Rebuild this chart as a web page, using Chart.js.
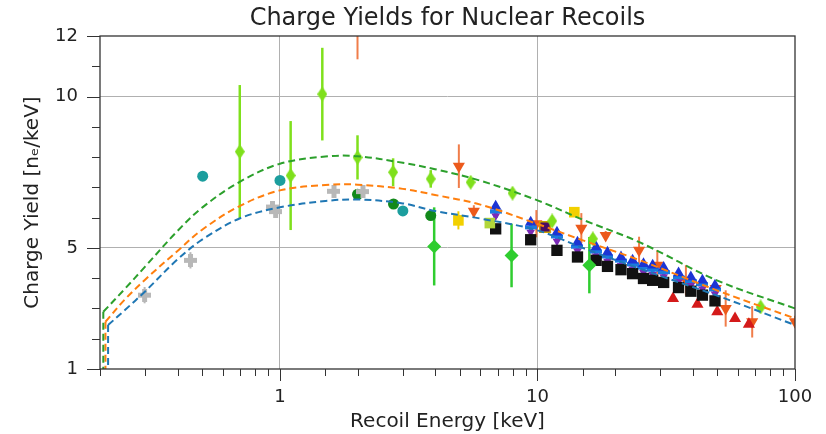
<!DOCTYPE html>
<html>
<head>
<meta charset="utf-8">
<script src="https://cdn.jsdelivr.net/npm/chart.js@4.4.1/dist/chart.umd.min.js"></script>
<style>
  html, body { margin: 0; padding: 0; background: #fff; }
</style>
</head>
<body>
<canvas id="chart" width="826" height="434"></canvas>
<script>
// ================= MODEL CURVES =================
const greenCurveE = [0.206, 0.25, 0.3, 0.4, 0.5, 0.7, 1, 1.5, 2, 3, 4, 6, 10, 15, 25, 50, 100];
const greenCurveY = [2.89, 3.65, 4.39, 5.56, 6.34, 7.19, 7.78, 8.02, 8.03, 7.81, 7.6, 7.22, 6.57, 5.93, 5.18, 3.92, 3.0];
const orangeCurveE = [0.21, 0.25, 0.3, 0.4, 0.5, 0.7, 1, 1.5, 2, 3, 4, 6, 10, 15, 25, 50, 100];
const orangeCurveY = [2.56, 3.30, 3.96, 4.90, 5.61, 6.39, 6.90, 7.08, 7.09, 6.95, 6.75, 6.43, 5.79, 5.25, 4.59, 3.59, 2.67];
const blueCurveE = [0.215, 0.25, 0.3, 0.4, 0.5, 0.7, 1, 1.5, 2, 3, 4, 6, 10, 15, 25, 50, 100];
const blueCurveY = [2.45, 2.95, 3.57, 4.62, 5.28, 5.98, 6.34, 6.55, 6.60, 6.47, 6.22, 5.97, 5.58, 5.0, 4.31, 3.42, 2.45];
const curveFloor = 0.5;

// ================= MEASUREMENTS =================
const grayE = [0.298, 0.449, 0.935, 0.962, 1.62, 2.10];
const grayY = [3.44, 4.59, 6.35, 6.20, 6.87, 6.86];
const grayErr = [0.27, 0.27, 0.1, 0.1, 0.08, 0.08];

const tealE = [0.501, 1.0, 3.0];
const tealY = [7.37, 7.23, 6.22];

const darkGreenE = [2.0, 2.76, 3.85];
const darkGreenY = [6.77, 6.45, 6.07];

const limeE = [0.698, 1.10, 1.46, 2.0, 2.75, 3.85, 5.50, 8.0, 11.4, 16.4, 73.5];
const limeY = [8.18, 7.39, 10.08, 7.99, 7.50, 7.28, 7.17, 6.81, 5.89, 5.30, 3.05];
const limeErr = [2.2, 1.8, 1.53, 0.73, 0.46, 0.29, 0.1, 0, 0, 0, 0.1];

const brightE = [3.97, 7.93, 15.9];
const brightY = [5.05, 4.75, 4.43];
const brightErr = [1.29, 1.05, 0.93];

const orangeE = [2.0, 4.95, 5.66, 9.9, 14.8, 18.4, 24.8, 29.2, 37.7, 49.2, 53.8, 68.2, 100];
const orangeY = [13.0, 7.70, 6.21, 5.80, 5.65, 5.41, 4.92, 4.43, 3.93, 3.66, 3.0, 2.56, 2.56];
const orangeErr = [1.77, 0.72, 0.2, 0.45, 0.5, 0.15, 0.45, 0.5, 0.5, 0.2, 0.6, 0.52, 0.2];

const yellowE = [4.93, 13.9];
const yellowY = [5.91, 6.18];
const yellowErr = [0.3, 0.1];

const nrE = [6.88, 9.41, 11.9, 14.3, 16.9, 18.7, 21.1, 23.4, 25.8, 28.0, 30.9, 35.3, 39.4, 43.7, 48.9];
const blackY = [5.63, 5.27, 4.92, 4.70, 4.59, 4.39, 4.28, 4.15, 3.99, 3.93, 3.86, 3.69, 3.57, 3.44, 3.25];
const blueTriY = [6.38, 5.85, 5.52, 5.19, 5.03, 4.86, 4.70, 4.59, 4.48, 4.43, 4.35, 4.17, 4.04, 3.93, 3.77];
const lightBlueY = [6.20, 5.68, 5.38, 5.04, 4.88, 4.72, 4.58, 4.46, 4.35, 4.28, 4.20, 4.02, 3.90, 3.80, 3.63];
const purpleY = [6.05, 5.52, 5.22, 4.90, 4.73, 4.56, 4.42, 4.30, 4.19, 4.12, 4.05, 3.88, 3.76, 3.64, 3.48];

const redE = [33.6, 41.8, 49.9, 58.5, 66.2];
const redY = [3.33, 3.14, 2.89, 2.67, 2.48];

const yellowGreenE = [6.53];
const yellowGreenY = [5.82];
const darkPurpleE = [10.7];
const darkPurpleY = [5.69];

// ================= AXES =================
const xMin = 0.2, xMax = 100;
const yMin = 1, yMax = 12;
const yLabelTicks = [1, 5, 10, 12];
const yGridTicks = [5, 10];
const xGridTicks = [1, 10];

// ================= HELPERS =================
const pts = (xs, ys) => xs.map((v, i) => ({ x: v, y: ys[i] }));

function thinDiamond(color, w, h) {
    const c = document.createElement("canvas");
    c.width = w; c.height = h;
    const g = c.getContext("2d");
    g.fillStyle = color;
    g.beginPath();
    g.moveTo(w / 2, 0); g.lineTo(w, h / 2); g.lineTo(w / 2, h); g.lineTo(0, h / 2);
    g.closePath(); g.fill();
    return c;
}

function filledPlus(color, s, t) {
    const c = document.createElement("canvas");
    c.width = s; c.height = s;
    const g = c.getContext("2d");
    g.fillStyle = color;
    g.fillRect((s - t) / 2, 0, t, s);
    g.fillRect(0, (s - t) / 2, s, t);
    return c;
}

function curve(xs, ys, color) {
    return {
        type: "line", showLine: true, data: pts(xs, ys),
        borderColor: color, borderWidth: 2, borderDash: [7, 4],
        pointRadius: 0, tension: 0.35, fill: false, order: 0
    };
}

// vertical drop at the threshold of each model curve
function drop(xs, ys, color) {
    return {
        type: "line", showLine: true,
        data: [{ x: xs[0], y: ys[0] }, { x: xs[0], y: curveFloor }],
        borderColor: color, borderWidth: 2, borderDash: [7, 4],
        pointRadius: 0, tension: 0, fill: false, order: 0
    };
}

function marks(xs, ys, color, style, radius, extra) {
    return Object.assign({
        data: pts(xs, ys), backgroundColor: color, borderColor: color,
        borderWidth: 0, pointStyle: style, pointRadius: radius, order: 1
    }, extra || {});
}

// ================= PLUGINS =================
const isMajorLog = v => Math.abs(Math.log10(v) - Math.round(Math.log10(v))) < 1e-6;

const errorBars = {
    id: "errorBars",
    beforeDatasetsDraw(chart) {
        const { ctx, chartArea, scales } = chart;
        ctx.save();
        ctx.beginPath();
        ctx.rect(chartArea.left, chartArea.top, chartArea.width, chartArea.height);
        ctx.clip();
        chart.data.datasets.forEach(ds => {
            if (!ds.errors) return;
            ctx.strokeStyle = ds.errorColor || ds.backgroundColor;
            ctx.lineWidth = ds.errorWidth || 2;
            ds.data.forEach((p, i) => {
                const e = ds.errors[i];
                if (!e) return;
                const px = scales.x.getPixelForValue(p.x);
                ctx.beginPath();
                ctx.moveTo(px, scales.y.getPixelForValue(p.y - e));
                ctx.lineTo(px, scales.y.getPixelForValue(p.y + e));
                ctx.stroke();
            });
        });
        ctx.restore();
    }
};

const frameAndTicks = {
    id: "frameAndTicks",
    afterDraw(chart) {
        const { ctx, chartArea: a, scales } = chart;
        ctx.save();
        ctx.strokeStyle = "#333";
        ctx.lineWidth = 1;
        scales.y.ticks.forEach(t => {
            const py = Math.round(scales.y.getPixelForValue(t.value)) + 0.5;
            const len = yLabelTicks.includes(t.value) ? 13 : 8;
            ctx.beginPath();
            ctx.moveTo(a.left, py); ctx.lineTo(a.left - len, py);
            ctx.stroke();
        });
        scales.x.ticks.forEach(t => {
            const px = Math.round(scales.x.getPixelForValue(t.value)) + 0.5;
            const len = isMajorLog(t.value) ? 12 : 7;
            ctx.beginPath();
            ctx.moveTo(px, a.bottom); ctx.lineTo(px, a.bottom + len);
            ctx.stroke();
        });
        ctx.lineWidth = 1.3;
        ctx.strokeRect(a.left, a.top, a.right - a.left, a.bottom - a.top);
        ctx.restore();
    }
};

// ================= CHART =================
new Chart(document.getElementById("chart"), {
    type: "scatter",
    data: {
        datasets: [
            curve(greenCurveE, greenCurveY, "#2ca02c"),
            curve(orangeCurveE, orangeCurveY, "#ff7f0e"),
            curve(blueCurveE, blueCurveY, "#1f77b4"),
            drop(greenCurveE, greenCurveY, "#2ca02c"),
            drop(orangeCurveE, orangeCurveY, "#ff7f0e"),
            drop(blueCurveE, blueCurveY, "#1f77b4"),

            marks(grayE, grayY, "#b8b8b8", filledPlus("#b8b8b8", 13, 5), 6, { errors: grayErr }),
            marks(tealE, tealY, "#1c9e9e", "circle", 5.5),
            marks(darkGreenE, darkGreenY, "#12891a", "circle", 5.5),
            marks(limeE, limeY, "#7fe01c", thinDiamond("#7fe01c", 10, 15), 6, { errors: limeErr, errorWidth: 2.5 }),
            marks(brightE, brightY, "#2fcd2f", "rectRot", 7, { errors: brightErr, errorWidth: 2.5 }),
            marks(yellowE, yellowY, "#f2d000", "rect", 7.5, { errors: yellowErr }),
            marks(yellowGreenE, yellowGreenY, "#b2d63a", "rect", 7.5),
            marks(nrE, blackY, "#111111", "rect", 8),
            marks(nrE, purpleY, "#7b2ab8", "triangle", 5, { rotation: 180 }),
            marks(nrE, blueTriY, "#1c34d4", "triangle", 6.5),
            marks(nrE, lightBlueY, "#1b7be0", filledPlus("#1b7be0", 12, 4), 6),
            marks(darkPurpleE, darkPurpleY, "#4b0c62", "rect", 7.5, { borderColor: "#c9a200", borderWidth: 1.5 }),
            marks(redE, redY, "#d41a1a", "triangle", 7),
            marks(orangeE, orangeY, "#ec5a1c", "triangle", 7, { rotation: 180, errors: orangeErr, errorColor: "#f07d4a" })
        ]
    },
    options: {
        responsive: false,
        animation: false,
        events: [],
        layout: { padding: { top: 0, right: 31, left: 0, bottom: 0 } },
        plugins: {
            legend: { display: false },
            tooltip: { enabled: false },
            title: {
                display: true,
                text: "Charge Yields for Nuclear Recoils",
                fullSize: false,
                color: "#222",
                font: { family: "DejaVu Sans", size: 24, weight: "normal" },
                padding: { top: 4.5, bottom: 2.7 }
            }
        },
        scales: {
            x: {
                type: "logarithmic",
                min: xMin, max: xMax,
                afterFit: s => { s.height = 65; s.paddingLeft = 0; s.paddingRight = 0; },
                grid: {
                    color: c => xGridTicks.some(v => Math.abs(c.tick.value - v) < 1e-9) ? "#b0b0b0" : "rgba(0,0,0,0)",
                    lineWidth: 1, drawTicks: false
                },
                border: { display: false },
                ticks: {
                    autoSkip: false, maxRotation: 0, padding: 18,
                    color: "#222",
                    font: { family: "DejaVu Sans", size: 18 },
                    callback: v => isMajorLog(v) ? String(Math.round(v)) : ""
                },
                title: {
                    display: true, text: "Recoil Energy [keV]", color: "#222",
                    font: { family: "DejaVu Sans", size: 20 },
                    padding: { top: 0, bottom: 0 }
                }
            },
            y: {
                type: "linear",
                min: yMin, max: yMax,
                afterFit: s => { s.width = 100; },
                grid: {
                    color: c => yGridTicks.includes(c.tick.value) ? "#b0b0b0" : "rgba(0,0,0,0)",
                    lineWidth: 1, drawTicks: false
                },
                border: { display: false },
                ticks: {
                    stepSize: 1, autoSkip: false, padding: 22,
                    color: "#222",
                    font: { family: "DejaVu Sans", size: 18 },
                    callback: v => yLabelTicks.includes(v) ? String(v) : ""
                },
                title: {
                    display: true, text: "Charge Yield [nₑ/keV]", color: "#222",
                    font: { family: "DejaVu Sans", size: 20 },
                    padding: { top: 21, bottom: 0 }
                }
            }
        }
    },
    plugins: [errorBars, frameAndTicks]
});
</script>
</body>
</html>
